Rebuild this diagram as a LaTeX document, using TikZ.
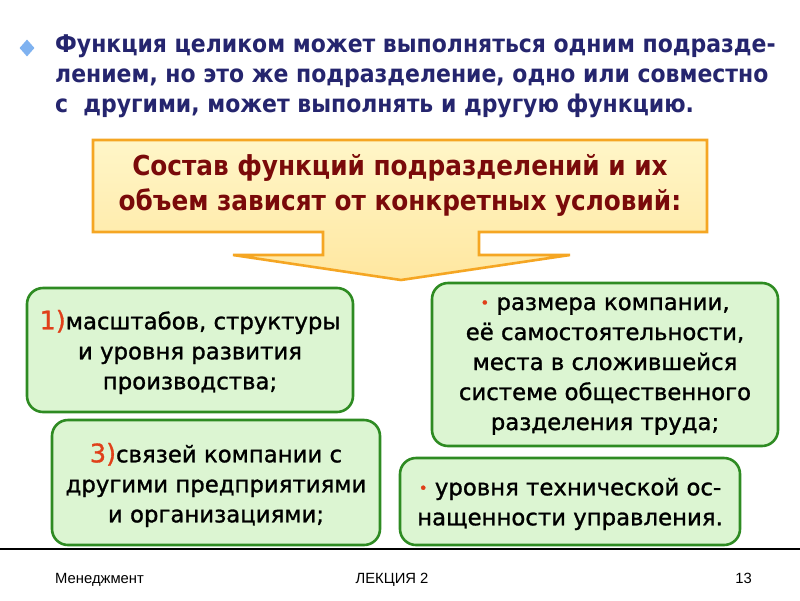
\documentclass[tikz,border=0pt]{standalone}
\usepackage{fontspec}
\setmainfont{DejaVu Sans}
\newfontfamily\foot{Liberation Sans}
\newfontfamily\condb{DejaVu Sans Condensed Bold}
\newfontfamily\semib[FakeBold=1.2]{DejaVu Sans}
\usetikzlibrary{shapes.geometric}
\definecolor{navy}{HTML}{25256E}
\definecolor{maroon}{HTML}{7A0A0A}
\definecolor{orng}{HTML}{F5A623}
\definecolor{yelltop}{HTML}{FFF6C8}
\definecolor{yellbot}{HTML}{FFE7A0}
\definecolor{gfill}{HTML}{DCF5D2}
\definecolor{gline}{HTML}{2E8B22}
\definecolor{numred}{HTML}{E0401A}
\definecolor{dblue}{HTML}{7FB2F0}
\tikzset{
  gbox/.style={draw=gline, line width=2.6pt, fill=gfill, rounded corners=16pt},
  gtext/.style={font=\semib\fontsize{22.8}{30}\selectfont, align=center, text=black, inner sep=0pt},
}
\newcommand{\numm}[1]{{\color{numred}\fontsize{25.5}{30}\selectfont #1}}
\newcommand{\bul}{{\color{numred}\fontsize{15}{20}\selectfont\raisebox{2pt}{•}}}
\begin{document}
\begin{tikzpicture}[x=1pt,y=-1pt]
\useasboundingbox (0,0) rectangle (800,600);
\fill[white] (0,0) rectangle (800,600);
% heading bullet
\node[diamond, fill=dblue, minimum width=15pt, minimum height=17pt, inner sep=0pt] (dia) at (27,48) {};
\node[anchor=north west, inner sep=0pt, text=navy, align=left,
  font=\condb\fontsize{24.4}{30}\selectfont] (head) at (55,35)
  {Функция целиком может выполняться одним подразде-\\
   лением, но это же подразделение, одно или совместно\\
   с\ \ другими, может выполнять и другую функцию.};
% callout
\shade[top color=yelltop, bottom color=yellbot, draw=orng, line width=2.6pt, line join=miter]
  (93,140) -- (707,140) -- (707,232) -- (479,232) -- (479,255) -- (570,255)
  -- (401,280) -- (233,255) -- (323,255) -- (323,232) -- (93,232) -- cycle;
\node[text=maroon, align=center, font=\condb\fontsize{27.5}{35}\selectfont, inner sep=0pt] (call) at (400,185)
  {Состав функций подразделений и их\\объем зависят от конкретных условий:};
% green boxes
\draw[gbox] (27,288) rectangle (353,412);
\node[gtext] (b1) at (190,352) {\numm{1)}масштабов, структуры\\и уровня развития\\производства;};
\draw[gbox] (52,420) rectangle (380,545);
\node[gtext] (b3) at (216,485) {\numm{3)}связей компании с\\другими предприятиями\\и организациями;};
\draw[gbox] (432,283) rectangle (778,446);
\node[gtext] (b2) at (605,366) {\bul\ размера компании,\\её самостоятельности,\\места в сложившейся\\системе общественного\\разделения труда;};
\draw[gbox] (400,458) rectangle (740,545);
\node[gtext] (b4) at (570,504) {\bul\ уровня технической ос-\\нащенности управления.};
% footer
\draw[line width=1.5pt] (0,549) -- (800,549);
\node[font=\foot\fontsize{14.8}{16}\selectfont, anchor=base west, inner sep=0pt] (f1) at (55,583) {Менеджмент};
\node[font=\foot\fontsize{14.8}{16}\selectfont, anchor=base, inner sep=0pt] (f2) at (392,583) {ЛЕКЦИЯ 2};
\node[font=\foot\fontsize{14.8}{16}\selectfont, anchor=base east, inner sep=0pt] (f3) at (752,583) {13};
\end{tikzpicture}
\end{document}
